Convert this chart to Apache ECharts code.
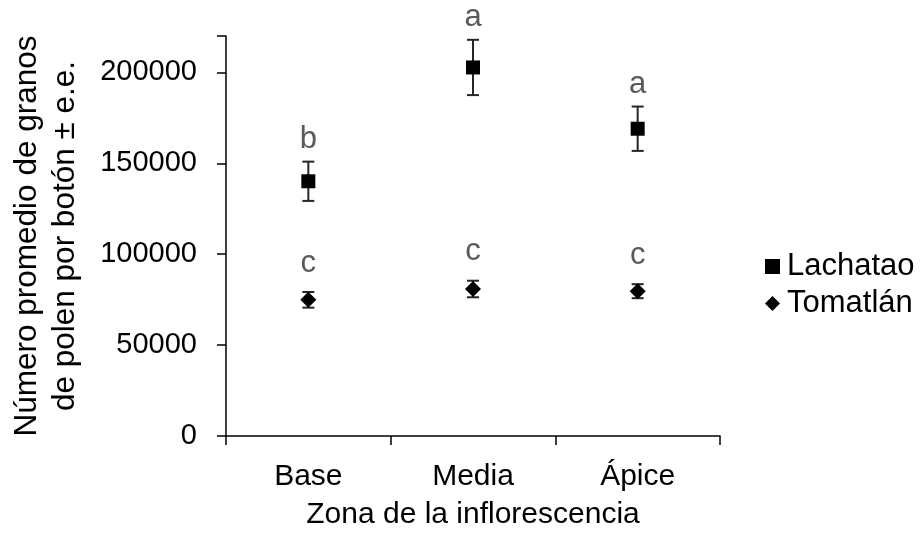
<!DOCTYPE html>
<html>
<head>
<meta charset="utf-8">
<script src="https://cdn.jsdelivr.net/npm/echarts@6/dist/echarts.min.js"></script>
<style>
html,body{margin:0;padding:0;background:#fff;}
#chart{width:924px;height:535px;}
</style>
</head>
<body>
<div id="chart"></div>
<script>
var categories = ['Base', 'Media', 'Ápice'];
var lachatao = [140100, 202700, 169000];
var lachataoSE = [10800, 15200, 12200];
var lachataoLetters = ['b', 'a', 'a'];
var tomatlan = [74900, 80850, 79650];
var tomatlanSE = [4300, 4550, 3850];
var tomatlanLetters = ['c', 'c', 'c'];
var yTicks = [0, 50000, 100000, 150000, 200000];

var FONT = 'Arial, "Liberation Sans", sans-serif';

function errData(vals, se, letters) {
  return vals.map(function (v, i) { return [i, v - se[i], v + se[i], letters[i]]; });
}

function makeErr(gap) {
  return function (params, api) {
    var x = api.coord([api.value(0), 0])[0];
    var lo = api.coord([api.value(0), api.value(1)])[1];
    var hi = api.coord([api.value(0), api.value(2)])[1];
    var half = 6;
    var st = { stroke: '#262626', lineWidth: 2 };
    return {
      type: 'group',
      children: [
        { type: 'line', shape: { x1: x, y1: hi, x2: x, y2: lo }, style: st },
        { type: 'line', shape: { x1: x - half, y1: hi, x2: x + half, y2: hi }, style: st },
        { type: 'line', shape: { x1: x - half, y1: lo, x2: x + half, y2: lo }, style: st },
        { type: 'text', style: { text: api.value(3), x: x, y: hi - gap - 10, align: 'center', verticalAlign: 'middle', fill: '#595959', font: '31px ' + FONT } }
      ]
    };
  };
}

var chart = echarts.init(document.getElementById('chart'), null, { renderer: 'canvas' });
chart.setOption({
  animation: false,
  backgroundColor: '#ffffff',
  grid: { left: 226, right: 204, top: 36, bottom: 99, containLabel: false, outerBoundsMode: 'none' },
  legend: {
    orient: 'vertical',
    left: 760,
    top: 246,
    itemWidth: 15,
    itemHeight: 15,
    itemGap: 6,
    textStyle: { fontFamily: FONT, fontSize: 31, color: '#000', lineHeight: 31, padding: [0, 0, 0, 2] },
    data: [
      { name: 'Lachatao', icon: 'rect' },
      { name: 'Tomatlán', icon: 'diamond' }
    ]
  },
  xAxis: {
    type: 'category',
    data: categories,
    boundaryGap: true,
    name: 'Zona de la inflorescencia',
    nameLocation: 'middle',
    nameGap: 64,
    nameTextStyle: { fontFamily: FONT, fontSize: 30, color: '#000' },
    axisLine: { lineStyle: { color: '#000', width: 1.5 } },
    axisTick: { show: true, length: 9, alignWithLabel: false, lineStyle: { color: '#000', width: 1.5 } },
    axisLabel: { fontFamily: FONT, fontSize: 30, color: '#000', margin: 26 },
    splitLine: { show: false }
  },
  yAxis: {
    type: 'value',
    min: 0,
    max: 220000,
    interval: 50000,
    name: 'Número promedio de granos\nde polen por botón ± e.e.',
    nameLocation: 'middle',
    nameGap: 142,
    nameRotate: 90,
    nameTextStyle: { fontFamily: FONT, fontSize: 31.5, color: '#000', lineHeight: 38 },
    axisLine: { show: true, lineStyle: { color: '#000', width: 1.5 } },
    axisTick: { show: true, length: 9, lineStyle: { color: '#000', width: 1.5 } },
    axisLabel: {
      fontFamily: FONT, fontSize: 29, color: '#000', margin: 29,
      formatter: function (v) { return yTicks.indexOf(v) >= 0 ? String(v) : ''; }
    },
    splitLine: { show: false }
  },
  series: [
    {
      name: 'LachataoErr', type: 'custom', renderItem: makeErr(12),
      data: errData(lachatao, lachataoSE, lachataoLetters), z: 2, silent: true
    },
    {
      name: 'TomatlánErr', type: 'custom', renderItem: makeErr(19),
      data: errData(tomatlan, tomatlanSE, tomatlanLetters), z: 2, silent: true
    },
    {
      name: 'Lachatao', type: 'scatter', symbol: 'rect', symbolSize: 14,
      itemStyle: { color: '#000', opacity: 1 }, data: lachatao, z: 5
    },
    {
      name: 'Tomatlán', type: 'scatter', symbol: 'diamond', symbolSize: 16,
      itemStyle: { color: '#000', opacity: 1 }, data: tomatlan, z: 5
    }
  ]
});
</script>
</body>
</html>
